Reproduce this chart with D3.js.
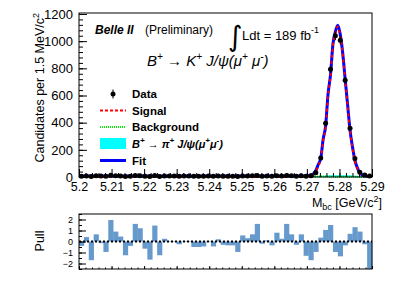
<!DOCTYPE html>
<html>
<head>
<meta charset="utf-8">
<script src="https://cdn.jsdelivr.net/npm/d3@7"></script>
<style>
  body { margin: 0; background: #fff; }
  svg { font-family: "Liberation Sans", Arial, sans-serif; display: block; }
  .axis path { display: none; }
  .axis line { stroke: #000; stroke-width: 1; }
  .axis text { fill: #000; }
</style>
</head>
<body>
<div id="chart"></div>
<script>
const width = 411;
const height = 281;

// bins of 1.5 MeV from 5.20 to 5.29 GeV
const binLow = 5.2;
const binWidth = 0.0015;
const dataCounts = [6, 8, 3, 9, 7, 5, 12, 9, 8, 4, 6, 11, 10, 5, 3, 11, 4, 8, 7, 7,
  6, 7, 7, 6, 6, 6, 7, 6, 7, 6, 6, 6, 4, 8, 8, 9, 11, 6, 7, 6,
  9, 8, 11, 9, 6, 10, 5, 9, 32, 140, 395, 794, 1039, 1007, 713, 358, 137, 35, 15, 7];
const pullValues = [-0.4, 0.4, -1.7, 0.65, -0.15, -0.95, 1.95, 0.9, 0.45, -1.25,
  -0.4, 1.6, 1.2, -0.65, -1.65, 1.45, -1.25, 0.25, -0.05, -0.05,
  -0.25, 0.05, -0.05, -0.5, -0.5, -0.45, 0.05, -0.45, 0.2, -0.3,
  -0.35, -0.35, -0.95, 0.55, 0.3, 0.65, 1.6, -0.2, 0.1, -0.35,
  0.8, 0.25, 1.6, 0.65, -0.3, 0.65, -1.3, -1.7, -0.95, 0.35,
  1.05, 1.5, -0.95, -1.35, -0.35, 0.7, 1.3, 0.9, -0.25, -2.5];

// fit components
const fitMass = [5.200, 5.220, 5.240, 5.260, 5.268, 5.2690, 5.26975, 5.2705, 5.27125, 5.2720,
  5.27275, 5.2735, 5.27425, 5.2750, 5.27575, 5.2765, 5.27725, 5.2780, 5.27875, 5.2795,
  5.28025, 5.2810, 5.28175, 5.2825, 5.28325, 5.2840, 5.28475, 5.2855, 5.28625, 5.2870,
  5.28775, 5.2885, 5.28925, 5.2900];
const fitTotal = [8, 8, 7.5, 7, 7.5, 8, 9, 11, 15, 24, 48, 92, 136, 280, 375, 612, 752, 979, 1070, 1118,
  1050, 913, 722, 534, 345, 222, 123, 68, 30, 16, 10, 6, 4, 3];
const signalVals = [1, 1, 1, 1.5, 2, 2.5, 3.5, 5.5, 9.5, 18, 42, 85, 128, 271, 366, 602, 742, 969, 1060, 1108,
  1040, 903, 713, 526, 337, 215, 117, 63, 26, 13, 8, 4, 2.5, 2];
const bkgVals = [5, 5, 4.5, 4, 3.5, 3.5, 3.5, 3.5, 3.5, 3.2, 3, 3, 3, 3, 2.8, 2.8, 2.7, 2.6, 2.5, 2.4,
  2.3, 2.2, 2.0, 1.8, 1.6, 1.4, 1.2, 1.0, 0.8, 0.6, 0.4, 0.2, 0.1, 0];
const piVals = [1.5, 1.5, 1.8, 2, 2.5, 2.7, 3, 3.5, 4, 5, 6, 7, 8, 9, 10, 11, 12, 12.5, 13, 13,
  13, 13, 12.5, 12, 11, 10, 9, 8, 7, 6, 5, 4, 3, 2];

const xTicks = [5.2, 5.21, 5.22, 5.23, 5.24, 5.25, 5.26, 5.27, 5.28, 5.29];
const yTicks = [0, 200, 400, 600, 800, 1000, 1200];
const pullTicks = [-2, -1, 0, 1, 2];
const legendLabels = ["Data", "Signal", "Background", "B\u207A \u2192 \u03C0\u207A J/\u03C8(\u03BC\u207A\u03BC\u207B)", "Fit"];

const main = { left: 79, right: 372, top: 13, bottom: 177 };
const pullBox = { top: 214, bottom: 269 };

const x = d3.scaleLinear().domain([5.2, 5.29]).range([main.left, main.right]);
const y = d3.scaleLinear().domain([0, 1200]).range([main.bottom, 14]);
const yPull = d3.scaleLinear().domain([-2.5, 2.5]).range([pullBox.bottom, pullBox.top]);

const svg = d3.select("#chart").append("svg")
  .attr("width", width).attr("height", height);

const bins = dataCounts.map((n, i) => ({
  lo: binLow + i * binWidth,
  c: binLow + (i + 0.5) * binWidth,
  n: n,
  pull: pullValues[i]
}));

// ---- main panel ----
const fitPts = fitMass.map((m, i) => ({ m, tot: fitTotal[i], sig: signalVals[i], bkg: bkgVals[i], pi: piVals[i] }));

svg.append("path")
  .datum(fitPts)
  .attr("fill", "#00ffff")
  .attr("d", d3.area().x(d => x(d.m)).y0(y(0)).y1(d => y(d.pi)).curve(d3.curveMonotoneX));

svg.append("path")
  .datum(fitPts)
  .attr("fill", "none").attr("stroke", "#00ee00").attr("stroke-width", 2).attr("stroke-dasharray", "1,1")
  .attr("d", d3.line().x(d => x(d.m)).y(d => y(d.bkg)).curve(d3.curveMonotoneX));

svg.append("path")
  .datum(fitPts)
  .attr("fill", "none").attr("stroke", "#0000ff").attr("stroke-width", 3)
  .attr("d", d3.line().x(d => x(d.m)).y(d => y(d.tot)).curve(d3.curveMonotoneX));

svg.append("path")
  .datum(fitPts)
  .attr("fill", "none").attr("stroke", "#ff0000").attr("stroke-width", 2).attr("stroke-dasharray", "3,3")
  .attr("d", d3.line().x(d => x(d.m)).y(d => y(d.sig)).curve(d3.curveMonotoneX));

// data points with sqrt(N) errors
svg.append("g").selectAll("line")
  .data(bins).join("line")
  .attr("x1", d => x(d.c)).attr("x2", d => x(d.c))
  .attr("y1", d => y(d.n + Math.sqrt(d.n))).attr("y2", d => y(Math.max(0, d.n - Math.sqrt(d.n))))
  .attr("stroke", "#000").attr("stroke-width", 1);
svg.append("g").selectAll("circle")
  .data(bins).join("circle")
  .attr("cx", d => x(d.c)).attr("cy", d => y(d.n)).attr("r", 2.5)
  .attr("fill", "#000");

// frame
svg.append("rect")
  .attr("x", main.left).attr("y", main.top)
  .attr("width", main.right - main.left).attr("height", main.bottom - main.top)
  .attr("fill", "none").attr("stroke", "#000").attr("stroke-width", 1);

// axes with inward ticks
svg.append("g").attr("class", "axis")
  .attr("transform", `translate(${main.left},0)`)
  .call(d3.axisLeft(y).tickValues(d3.range(0, 1201, 40)).tickSize(-4).tickFormat(""));
svg.append("g").attr("class", "axis")
  .attr("transform", `translate(${main.left},0)`)
  .call(d3.axisLeft(y).tickValues(yTicks).tickSize(-8).tickPadding(6).tickFormat(d3.format("d")))
  .selectAll("text").style("font-size", "13px");

svg.append("g").attr("class", "axis")
  .attr("transform", `translate(0,${main.bottom})`)
  .call(d3.axisBottom(x).tickValues(d3.range(0, 46).map(i => 5.2 + i * 0.002)).tickSize(-4).tickFormat(""));
svg.append("g").attr("class", "axis")
  .attr("transform", `translate(0,${main.bottom})`)
  .call(d3.axisBottom(x).tickValues(xTicks).tickSize(-8).tickPadding(5).tickFormat(d => +d.toFixed(2)))
  .selectAll("text").style("font-size", "12.5px");

svg.append("text")
  .attr("transform", `translate(44,13) rotate(-90)`)
  .attr("text-anchor", "end")
  .style("font-size", "12.5px")
  .html('Candidates per 1.5 MeV/c<tspan dy="-5" font-size="9">2</tspan>');

const xl = svg.append("text")
  .attr("x", 382).attr("y", 207)
  .attr("text-anchor", "end")
  .style("font-size", "12.5px");
xl.append("tspan").text("M");
xl.append("tspan").attr("dy", 3).attr("font-size", 9).text("bc");
xl.append("tspan").attr("dy", -3).text(" [GeV/c");
xl.append("tspan").attr("dy", -5).attr("font-size", 9).text("2");
xl.append("tspan").attr("dy", 5).text("]");

// labels in the plot
svg.append("text").attr("x", 95).attr("y", 34)
  .style("font-size", "12px").style("font-weight", "bold").style("font-style", "italic")
  .text("Belle II");
svg.append("text").attr("x", 145).attr("y", 34)
  .style("font-size", "12px").text("(Preliminary)");

svg.append("text").attr("x", 228).attr("y", 46)
  .style("font-family", "DejaVu Sans").style("font-size", "28px").text("\u222B");
const lumi = svg.append("text").attr("x", 242).attr("y", 40).style("font-size", "13px");
lumi.append("tspan").text("Ldt = 189 fb");
lumi.append("tspan").attr("dy", -7).attr("font-size", 9).text("-1");

const decay = svg.append("text").attr("x", 147).attr("y", 66)
  .style("font-size", "15px").style("font-style", "italic");
decay.append("tspan").text("B");
decay.append("tspan").attr("dy", -6).attr("font-size", 10).text("+");
decay.append("tspan").attr("dy", 6).text(" \u2192 K");
decay.append("tspan").attr("dy", -6).attr("font-size", 10).text("+");
decay.append("tspan").attr("dy", 6).text(" J/\u03C8(\u03BC");
decay.append("tspan").attr("dy", -6).attr("font-size", 10).text("+");
decay.append("tspan").attr("dy", 6).text(" \u03BC");
decay.append("tspan").attr("dy", -6).attr("font-size", 10).text("-");
decay.append("tspan").attr("dy", 6).text(")");

// legend
const legY = [94, 110.5, 127, 143.5, 160.5];
const leg = svg.append("g");
leg.append("line").attr("x1", 113).attr("x2", 113).attr("y1", legY[0] - 4.5).attr("y2", legY[0] + 4.5)
  .attr("stroke", "#000");
leg.append("circle").attr("cx", 113).attr("cy", legY[0]).attr("r", 2.5);
leg.append("line").attr("x1", 100).attr("x2", 126).attr("y1", legY[1]).attr("y2", legY[1])
  .attr("stroke", "#ff0000").attr("stroke-width", 2).attr("stroke-dasharray", "3,2");
leg.append("line").attr("x1", 100).attr("x2", 126).attr("y1", legY[2]).attr("y2", legY[2])
  .attr("stroke", "#00ee00").attr("stroke-width", 2).attr("stroke-dasharray", "1,1");
leg.append("rect").attr("x", 100).attr("y", legY[3] - 5.5).attr("width", 26).attr("height", 11)
  .attr("fill", "#00ffff");
leg.append("line").attr("x1", 100).attr("x2", 126).attr("y1", legY[4]).attr("y2", legY[4])
  .attr("stroke", "#0000ff").attr("stroke-width", 3);
legendLabels.forEach((t, i) => {
  const tx = leg.append("text").attr("x", 132).attr("y", legY[i] + 4)
    .style("font-size", "11.5px").style("font-weight", "bold");
  if (i === 3) {
    tx.style("font-style", "italic").style("font-size", "11px");
    tx.append("tspan").text("B");
    tx.append("tspan").attr("dy", -5).attr("font-size", 8).text("+");
    tx.append("tspan").attr("dy", 5).text(" \u2192 \u03C0");
    tx.append("tspan").attr("dy", -5).attr("font-size", 8).text("+");
    tx.append("tspan").attr("dy", 5).text(" J/\u03C8(\u03BC");
    tx.append("tspan").attr("dy", -5).attr("font-size", 8).text("+");
    tx.append("tspan").attr("dy", 5).text("\u03BC");
    tx.append("tspan").attr("dy", -5).attr("font-size", 8).text("-");
    tx.append("tspan").attr("dy", 5).text(")");
  } else {
    tx.text(t);
  }
});

// ---- pull panel ----
const bw = x(binLow + binWidth) - x(binLow);
svg.append("g").selectAll("rect")
  .data(bins).join("rect")
  .attr("x", d => x(d.lo)).attr("width", bw + 0.3)
  .attr("y", d => yPull(Math.max(0, d.pull)))
  .attr("height", d => Math.abs(yPull(d.pull) - yPull(0)))
  .attr("fill", "#6699cc");

svg.append("line")
  .attr("x1", main.left).attr("x2", main.right).attr("y1", yPull(0)).attr("y2", yPull(0))
  .attr("stroke", "#000").attr("stroke-width", 2).attr("stroke-dasharray", "2,2");

svg.append("rect")
  .attr("x", main.left).attr("y", pullBox.top)
  .attr("width", main.right - main.left).attr("height", pullBox.bottom - pullBox.top)
  .attr("fill", "none").attr("stroke", "#000").attr("stroke-width", 1);

svg.append("g").attr("class", "axis")
  .attr("transform", `translate(${main.left},0)`)
  .call(d3.axisLeft(yPull).tickValues(d3.range(-2.5, 2.51, 0.5)).tickSize(-3).tickFormat(""));
svg.append("g").attr("class", "axis")
  .attr("transform", `translate(${main.left},0)`)
  .call(d3.axisLeft(yPull).tickValues(pullTicks).tickSize(-7).tickPadding(6).tickFormat(d3.format("d")))
  .selectAll("text").style("font-size", "9px");
svg.append("g").attr("class", "axis")
  .attr("transform", `translate(0,${pullBox.bottom})`)
  .call(d3.axisBottom(x).tickValues(d3.range(0, 46).map(i => 5.2 + i * 0.002)).tickSize(-1.5).tickFormat(""));
svg.append("g").attr("class", "axis")
  .attr("transform", `translate(0,${pullBox.bottom})`)
  .call(d3.axisBottom(x).tickValues(xTicks).tickSize(-3).tickFormat(""));

svg.append("text")
  .attr("transform", `translate(44,241) rotate(-90)`)
  .attr("text-anchor", "middle")
  .style("font-size", "12.5px")
  .text("Pull");
</script>
</body>
</html>
